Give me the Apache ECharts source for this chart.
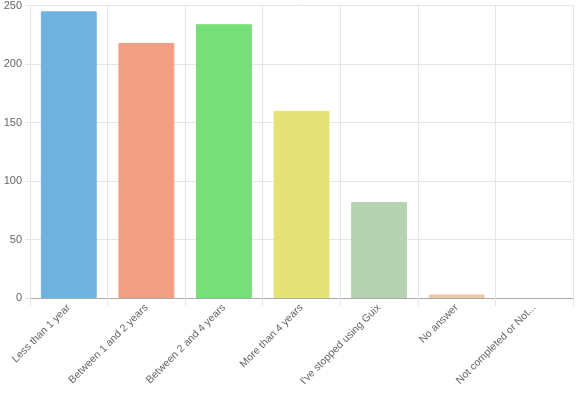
<!DOCTYPE html>
<html>
<head>
<meta charset="utf-8">
<style>
    html, body { margin: 0; padding: 0; background: #fff; }
    #chart { width: 576px; height: 400px; }
</style>
</head>
<body>
<div id="chart"></div>
<script src="https://cdn.jsdelivr.net/npm/echarts@6/dist/echarts.min.js"></script>
<script type="text/javascript">
    const categories = ['Less than 1 year', 'Between 1 and 2 years', 'Between 2 and 4 years',
        'More than 4 years', "I've stopped using Guix", 'No answer', 'Not completed or Not...'];
    const counts = [245, 218, 234, 160, 82, 3, 0];
    const barColors = ['#70b2de', '#f19f84', '#77df78', '#e4e377', '#b6d2b2', '#e9c8a8', '#d8c2e0'];
    const yTicks = { min: 0, max: 250, interval: 50 };

    const chart = echarts.init(document.getElementById('chart'));

    chart.setOption({
        animation: false,
        textStyle: { fontFamily: 'Liberation Sans, Arial, sans-serif' },
        grid: { left: 30, right: 3, top: 5, bottom: 102, containLabel: false },
        xAxis: {
            type: 'category',
            data: categories,
            axisLine: { lineStyle: { color: '#aaa' } },
            axisTick: { show: true, length: 8, alignWithLabel: false, lineStyle: { color: '#e5e5e5' } },
            splitLine: { show: true, lineStyle: { color: '#e5e5e5' } },
            axisLabel: { rotate: 45, color: '#666', fontSize: 10.5, interval: 0, margin: 8 }
        },
        yAxis: {
            type: 'value',
            min: yTicks.min,
            max: yTicks.max,
            interval: yTicks.interval,
            axisLine: { show: false },
            axisTick: { show: true, length: 5, lineStyle: { color: '#e5e5e5' } },
            splitLine: { show: true, lineStyle: { color: '#e5e5e5' } },
            axisLabel: { color: '#666', fontSize: 11, margin: 8 }
        },
        series: [{
            type: 'bar',
            barCategoryGap: '28%',
            data: counts.map((v, i) => ({
                value: v,
                itemStyle: { color: barColors[i], borderColor: barColors[i], borderWidth: v > 0 ? 1 : 0 }
            }))
        }]
    });
</script>
</body>
</html>
